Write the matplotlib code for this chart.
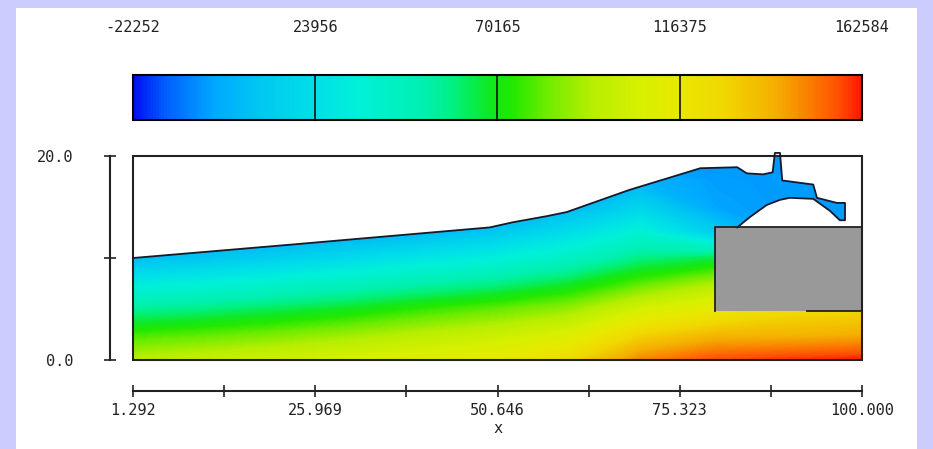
import numpy as np
import matplotlib
matplotlib.use('Agg')
import matplotlib.pyplot as plt
from matplotlib.colors import LinearSegmentedColormap
from matplotlib.patches import Rectangle, Polygon
from matplotlib.cm import ScalarMappable
from matplotlib.colors import Normalize

# colour scale
cbar_ticks = [-22252, 23956, 70165, 116375, 162584]
cbar_labels = ['-22252', '23956', '70165', '116375', '162584']
p_min, p_max = -22252, 162584

# x axis ticks
x_ticks = [1.292, 13.631, 25.969, 38.308, 50.646, 62.985, 75.323, 87.662, 100.0]
x_labels = ['1.292', '', '25.969', '', '50.646', '', '75.323', '', '100.000']
y_ticks = [0, 10, 20]
y_labels = ['0.0', '', '20.0']

# free surface, left to right then back along the underside of the jet
surf_x = [1.292, 22.5, 49.6, 52.7, 57.3, 60.0, 68.6, 73.6, 78.1, 83.1, 84.4, 86.6, 87.9,
          88.2, 88.9, 89.2, 93.4, 93.9, 96.6, 97.7, 97.7, 97.0, 95.7, 93.4, 90.2, 88.9,
          87.1, 84.8, 83.1]
surf_y = [10.0, 11.3, 13.0, 13.5, 14.1, 14.5, 16.7, 17.8, 18.8, 18.9, 18.3, 18.2, 18.4,
          20.3, 20.3, 17.6, 17.2, 15.9, 15.4, 15.4, 13.7, 13.7, 14.6, 15.8, 15.9, 15.7,
          15.2, 14.0, 13.0]

# structure block
struct_x = [80.1, 100.0]
struct_y = [4.8, 13.0]
struct_edge_x = [92.5, 100.0]

# pressure samples (columns = grid_x, rows = grid_y)
grid_x = [1.292, 10, 20, 30, 40, 50, 60, 70, 80, 90, 100]
grid_y = [0, 2.5, 5, 7.5, 10, 12.5, 15, 17.5, 20]
p_x1 = [96000, 77000, 55000, 31000, 5000, -5000, -5000, -5000, -5000]
p_x10 = [99000, 80000, 58000, 34000, 9000, -5000, -5000, -5000, -5000]
p_x20 = [103000, 84000, 63000, 39000, 14000, -4000, -5000, -5000, -5000]
p_x30 = [107000, 89000, 68000, 45000, 20000, -2000, -5000, -5000, -5000]
p_x40 = [111000, 95000, 75000, 51000, 27000, 4000, -5000, -5000, -5000]
p_x50 = [116000, 100000, 81000, 57000, 33000, 10000, -5000, -5000, -5000]
p_x60 = [126000, 108000, 88000, 66000, 43000, 22000, 2000, -5000, -5000]
p_x70 = [148000, 128000, 105000, 80000, 58000, 37000, 17000, 2000, -5000]
p_x80 = [157000, 137000, 115000, 92000, 64000, 14000, -2000, -3000, -5000]
p_x90 = [160000, 138000, 125000, 100000, 50000, -4000, -4000, -4000, -5000]
p_x100 = [162000, 140000, 127000, 100000, 50000, -4000, -4000, -5000, -5000]

cmap = LinearSegmentedColormap.from_list('press', [
    (0.0, '#0010f0'), (0.044, '#0060ff'), (0.11, '#00a8ff'), (0.175, '#00c8f0'),
    (0.25, '#00e0e8'), (0.31, '#00f0d8'), (0.40, '#00f0b0'), (0.44, '#00f080'),
    (0.49, '#10e820'), (0.52, '#20e800'), (0.57, '#70ec00'), (0.63, '#b8ee00'),
    (0.70, '#d8f000'), (0.75, '#e8e800'), (0.81, '#f0d800'), (0.88, '#f5b000'),
    (0.92, '#f88800'), (0.97, '#ff5000'), (1.0, '#ff1800')])

mono = 'DejaVu Sans Mono'
W, H = 933, 449
fig = plt.figure(figsize=(W / 100, H / 100), dpi=100)
fig.patch.set_facecolor('#ccccff')
fig.patches.append(Rectangle((16 / W, 0), 901 / W, 441 / H, transform=fig.transFigure,
                             facecolor='white', edgecolor='none', zorder=-1))

# colour bar
cax = fig.add_axes([133 / W, (H - 120) / H, 729 / W, 45 / H])
cb = fig.colorbar(ScalarMappable(Normalize(p_min, p_max), cmap), cax=cax,
                  orientation='horizontal')
cb.outline.set_linewidth(1.5)
cax.xaxis.set_ticks_position('top')
cax.set_xticks(cbar_ticks)
cax.set_xticklabels(cbar_labels, family=mono, fontsize=11, color='#222222')
cax.tick_params(axis='x', length=0, pad=29)
for v in cbar_ticks[1:-1]:
    cax.axvline(v, color='#111111', lw=1.2)

# main field
ax = fig.add_axes([133 / W, (H - 360) / H, 729 / W, 204 / H])
ax.set_facecolor('white')
P = np.array([p_x1, p_x10, p_x20, p_x30, p_x40, p_x50, p_x60, p_x70, p_x80, p_x90, p_x100]).T
X, Y = np.meshgrid(grid_x, grid_y)
levels = np.linspace(p_min, p_max, 257)
field = ax.contourf(X, Y, P, levels=levels, cmap=cmap, vmin=p_min, vmax=p_max,
                    antialiased=False)

poly_x = [1.292, 100.0, 100.0, struct_x[0], struct_x[0]] + surf_x[::-1]
poly_y = [0, 0, struct_y[0], struct_y[0], struct_y[1]] + surf_y[::-1]
water = Polygon(np.column_stack([poly_x, poly_y]), closed=True, facecolor='none',
                edgecolor='none')
ax.add_patch(water)
field.set_clip_path(water)

ax.add_patch(Rectangle((struct_x[0], struct_y[0]), struct_x[1] - struct_x[0],
                       struct_y[1] - struct_y[0], facecolor='#999999', edgecolor='none'))
ax.plot([struct_x[0], struct_x[0], struct_x[1]], [struct_y[0], struct_y[1], struct_y[1]],
        color='#222222', lw=1.3)
ax.plot(struct_edge_x, [struct_y[0], struct_y[0]], color='#222222', lw=1.3)
ax.plot(surf_x, surf_y, color='#151a2a', lw=1.3, clip_on=False)

ax.add_patch(Rectangle((0, 0), 1, 1, transform=ax.transAxes, fill=False,
                       edgecolor='#222222', lw=1.5, clip_on=False))

ax.set_xlim(1.292, 100)
ax.set_ylim(0, 20)
for s in ['top', 'right']:
    ax.spines[s].set_visible(False)
ax.spines['left'].set_position(('outward', 16.6))
ax.spines['bottom'].set_position(('outward', 22.3))
ax.spines['left'].set_color('#222222')
ax.spines['bottom'].set_color('#222222')
ax.spines['left'].set_linewidth(1.5)
ax.spines['bottom'].set_linewidth(1.5)

ax.set_xticks(x_ticks)
ax.set_xticklabels(x_labels, family=mono, fontsize=11, color='#222222')
ax.set_yticks(y_ticks)
ax.set_yticklabels(y_labels, family=mono, fontsize=11, color='#222222')
ax.tick_params(axis='x', direction='inout', length=9, width=1.2, pad=4, colors='#222222')
ax.tick_params(axis='y', direction='inout', length=9, width=1.2, pad=22, colors='#222222')
ax.set_xlabel('x', family=mono, fontsize=11, color='#222222', labelpad=2)

fig.savefig('out.png', dpi=100, facecolor=fig.get_facecolor())
